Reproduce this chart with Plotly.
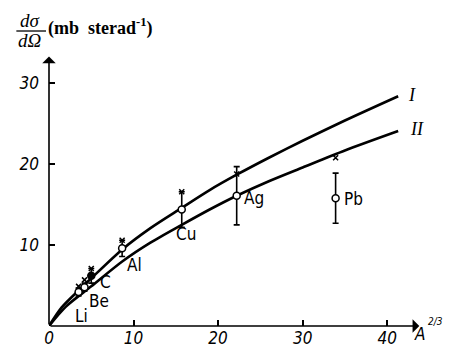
import plotly.graph_objects as go

# ---- data ----
curve_I_x = [0, 1.5, 3.5, 5, 8.7, 12, 15.7, 19, 22.2, 26, 30, 35, 41.3]
curve_I_y = [0, 2.3, 4.4, 5.9, 9.5, 12.1, 14.6, 16.8, 18.7, 20.8, 22.9, 25.4, 28.4]

curve_II_x = [0, 2, 5, 8.7, 12, 15.7, 19, 22.2, 26, 30, 35, 41.3]
curve_II_y = [0, 2.4, 4.9, 8.0, 10.3, 12.5, 14.4, 16.1, 17.9, 19.6, 21.7, 24.1]

elements = ["Li", "Be", "C", "Al", "Cu", "Ag", "Pb"]
elem_x = [3.5, 4.2, 5.0, 8.65, 15.7, 22.2, 33.9]
meas_y = [4.2, 4.8, 6.2, 9.6, 14.4, 16.1, 15.8]
meas_err = [0.5, 0.5, 0.9, 1.0, 2.2, 3.6, 3.1]
cross_y = [4.9, 5.7, 7.1, 10.6, 16.6, 18.8, 20.8]

label_x = [2.8, 4.5, 5.8, 9.0, 14.8, 22.8, 34.7]
label_y = [1.2, 3.1, 5.4, 7.6, 11.4, 15.8, 15.7]

x_ticks = [0, 10, 20, 30, 40]
y_ticks = [10, 20, 30]

# ---- layout geometry (page has an 8px body margin; page height is fitted to 352) ----
OFF = 8
W, H = 443, 352
K = (H + 2 * OFF) / 352.0
ML, MR = 37, 30
MT = 52.7 * K - OFF
MB = H - (331.7 * K - OFF)
PW, PH = W - ML - MR, H - MT - MB


def px(xs):
    return (xs - OFF - ML) / PW


def py(ys):
    return (H - MB - (ys * K - OFF)) / PH


fig = go.Figure()

for cx, cy in ((curve_I_x, curve_I_y), (curve_II_x, curve_II_y)):
    fig.add_trace(go.Scatter(x=cx, y=cy, mode="lines",
                             line=dict(color="black", width=2.6, shape="spline", smoothing=0.8),
                             hoverinfo="skip", showlegend=False))

# crosses (other measurement)
fig.add_trace(go.Scatter(x=elem_x, y=cross_y, mode="markers",
                         marker=dict(symbol="x-thin", size=5, line=dict(color="black", width=1.5)),
                         showlegend=False))

# circles with error bars
fill = ["white" if e != "C" else "black" for e in elements]
fig.add_trace(go.Scatter(x=elem_x, y=meas_y, mode="markers",
                         marker=dict(symbol="circle", size=7, color=fill,
                                     line=dict(color="black", width=1.5)),
                         error_y=dict(type="data", array=meas_err, visible=True,
                                      color="black", thickness=1.6, width=3),
                         showlegend=False))

cond = "DejaVu Sans Condensed, Liberation Sans Narrow, Liberation Sans"
lab_font = dict(family=cond, size=17, color="black")
for e, lx, ly in zip(elements, label_x, label_y):
    fig.add_annotation(x=lx, y=ly, text=e, showarrow=False, xanchor="left", yanchor="middle",
                       font=lab_font)

# curve labels
roman_font = dict(family="Liberation Serif, DejaVu Serif", size=18, color="black", style="italic")
fig.add_annotation(x=42.2, y=28.6, text="I", showarrow=False, xanchor="left", font=roman_font)
fig.add_annotation(x=42.5, y=24.3, text="II", showarrow=False, xanchor="left", font=roman_font)

# axes with arrows
fig.add_annotation(x=43.8, y=0, ax=0, ay=0, axref="x", ayref="y", xref="x", yref="y",
                   text="", showarrow=True, arrowhead=1, arrowsize=1.4, arrowwidth=1.6,
                   arrowcolor="black")
fig.add_annotation(x=0, y=33.3, ax=0, ay=0, axref="x", ayref="y", xref="x", yref="y",
                   text="", showarrow=True, arrowhead=1, arrowsize=1.4, arrowwidth=1.6,
                   arrowcolor="black")

# axis titles
it_font = dict(family="Liberation Serif, DejaVu Serif", size=19, color="black", style="italic")
fig.add_annotation(xref="paper", yref="paper", x=px(26), y=py(17), text="dσ",
                   showarrow=False, font=it_font, xanchor="center", yanchor="middle")
fig.add_annotation(xref="paper", yref="paper", x=px(26), y=py(38), text="dΩ",
                   showarrow=False, font=it_font, xanchor="center", yanchor="middle")
fig.add_shape(type="line", xref="paper", yref="paper", x0=px(12), x1=px(42),
              y0=py(28), y1=py(28), line=dict(color="black", width=1.3))
fig.add_annotation(xref="paper", yref="paper", x=px(42), y=py(24),
                   text="<b>(mb  sterad<sup>-1</sup>)</b>", showarrow=False,
                   font=dict(family="Liberation Serif, DejaVu Serif", size=18, color="black"),
                   xanchor="left", yanchor="middle")
fig.add_annotation(xref="paper", yref="paper", x=px(412), y=py(340),
                   text="A", showarrow=False,
                   font=dict(family=cond, size=17, color="black", style="italic"),
                   xanchor="left", yanchor="middle")
fig.add_annotation(xref="paper", yref="paper", x=px(426), y=py(327),
                   text="2/3", showarrow=False,
                   font=dict(family=cond, size=10, color="black", style="italic"),
                   xanchor="left", yanchor="middle")

tick_font = dict(family=cond, size=17, color="black", style="italic")
fig.update_xaxes(range=[0, 44], showgrid=False, zeroline=False, showline=False,
                 tickvals=x_ticks, ticktext=[str(v) for v in x_ticks],
                 ticks="inside", ticklen=6, tickwidth=1.5, tickcolor="black",
                 tickfont=tick_font, fixedrange=True)
fig.update_yaxes(range=[0, 33.5], showgrid=False, zeroline=False, showline=False,
                 tickvals=y_ticks, ticktext=[str(v) for v in y_ticks],
                 ticks="inside", ticklen=6, tickwidth=1.5, tickcolor="black",
                 tickfont=tick_font, ticklabelstandoff=9, fixedrange=True)

fig.update_layout(width=W, height=H, margin=dict(l=ML, r=MR, t=MT, b=MB, pad=0),
                  paper_bgcolor="white", plot_bgcolor="white", showlegend=False)

fig.write_html("out.html")
